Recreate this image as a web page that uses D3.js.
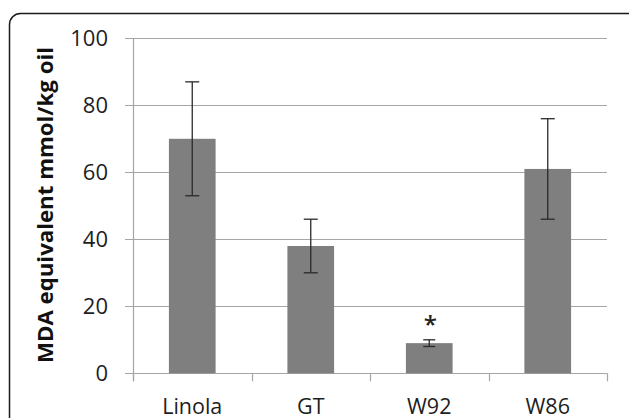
<!DOCTYPE html>
<html><head><meta charset="utf-8">
<script src="https://cdn.jsdelivr.net/npm/d3@7"></script>
<style>body{margin:0;background:#fff}svg{display:block}</style>
</head><body>
<script>
const categories = ["Linola", "GT", "W92", "W86"];
const values = [70, 38, 9, 61];
const errors = [17, 8, 1, 15];
const yTicks = [0, 20, 40, 60, 80, 100];
const marks = ["", "", "*", ""];
const yTitle = "MDA equivalent mmol/kg oil";

const W = 629, H = 418;
const svg = d3.select("body").append("svg").attr("width", W).attr("height", H);
const font = "'Open Sans', sans-serif";

// border
svg.append("rect").attr("x", 9.5).attr("y", 13.5).attr("width", 630).attr("height", 430)
  .attr("rx", 11).attr("fill", "none").attr("stroke", "#1a1a1a").attr("stroke-width", 1.5);

const x0 = 133, x1 = 607, yTop = 38.3, yBot = 373.3;
const x = d3.scaleBand().domain(categories).range([x0, x1]).padding(0);
const y = d3.scaleLinear().domain([0, 100]).range([yBot, yTop]);

const grid = "#a6a6a6";
// gridlines + y ticks
svg.append("g").selectAll("line").data(yTicks).join("line")
  .attr("x1", x0 - 8).attr("x2", x1)
  .attr("y1", d => Math.round(y(d)) + 0.5).attr("y2", d => Math.round(y(d)) + 0.5)
  .attr("stroke", grid).attr("stroke-width", 1.2);
// y axis line
svg.append("line").attr("x1", x0 + 0.5).attr("x2", x0 + 0.5).attr("y1", y(100)).attr("y2", yBot + 8)
  .attr("stroke", grid).attr("stroke-width", 1.2);
// x ticks
const xt = categories.map(c => x(c)).concat([x1]);
svg.append("g").selectAll("line").data(xt).join("line")
  .attr("x1", d => Math.round(d) + 0.5).attr("x2", d => Math.round(d) + 0.5)
  .attr("y1", yBot).attr("y2", yBot + 8).attr("stroke", grid).attr("stroke-width", 1.2);

// y tick labels
svg.append("g").selectAll("text").data(yTicks).join("text")
  .attr("x", 108).attr("y", d => y(d)).attr("dy", "0.36em")
  .attr("text-anchor", "end").attr("font-family", font).attr("font-size", 22)
  .attr("fill", "#1e1e1e").text(d => d);

// bars
const bw = x.bandwidth() * 0.394;
const data = categories.map((c, i) => ({c, v: values[i], e: errors[i], m: marks[i]}));
svg.append("g").selectAll("rect").data(data).join("rect")
  .attr("x", d => x(d.c) + x.bandwidth() / 2 - bw / 2).attr("width", bw)
  .attr("y", d => y(d.v)).attr("height", d => y(0) - y(d.v))
  .attr("fill", "#7f7f80");

// error bars
const eb = svg.append("g").attr("stroke", "#2a2a2a").attr("stroke-width", 1.3);
data.forEach(d => {
  const cx = x(d.c) + x.bandwidth() / 2;
  const cw = d.e < 3 ? 6 : 7;
  eb.append("line").attr("x1", cx).attr("x2", cx).attr("y1", y(d.v + d.e)).attr("y2", y(d.v - d.e));
  eb.append("line").attr("x1", cx - cw).attr("x2", cx + cw).attr("y1", y(d.v + d.e)).attr("y2", y(d.v + d.e));
  eb.append("line").attr("x1", cx - cw).attr("x2", cx + cw).attr("y1", y(d.v - d.e)).attr("y2", y(d.v - d.e));
});

// significance marks
svg.append("g").selectAll("text").data(data.filter(d => d.m)).join("text")
  .attr("x", d => x(d.c) + x.bandwidth() / 2 + 1).attr("y", d => y(d.v + d.e) - 7)
  .attr("text-anchor", "middle").attr("font-family", font).attr("font-size", 24).attr("font-weight", 600)
  .attr("fill", "#222").text(d => d.m);

// x labels
svg.append("g").selectAll("text").data(categories).join("text")
  .attr("x", d => x(d) + x.bandwidth() / 2).attr("y", 414)
  .attr("text-anchor", "middle").attr("font-family", font).attr("font-size", 21.5)
  .attr("fill", "#1e1e1e").text(d => d);

// y title
svg.append("text").attr("transform", "translate(53,205) rotate(-90)")
  .attr("text-anchor", "middle").attr("font-family", font).attr("font-size", 21.5).attr("font-weight", "bold")
  .attr("fill", "#111").attr("textLength", 316).attr("lengthAdjust", "spacingAndGlyphs")
  .text(yTitle);
</script>
</body></html>
